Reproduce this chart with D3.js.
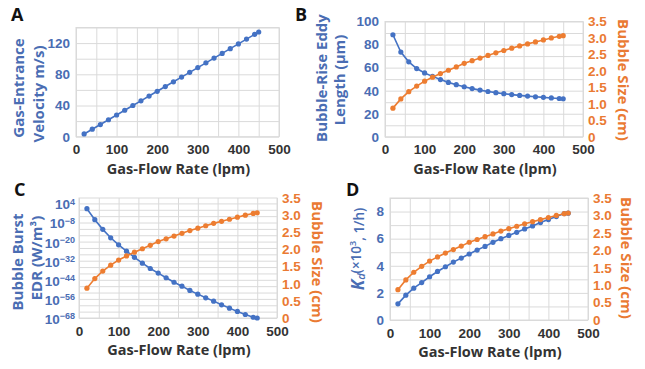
<!DOCTYPE html>
<html>
<head>
<meta charset="utf-8">
<script src="https://cdn.jsdelivr.net/npm/d3@7"></script>
<style>
  body { margin: 0; background: #fff; }
  svg { font-family: "Open Sans", sans-serif; }
  .grid line { stroke: #dadada; stroke-width: 1; }
  .grid .domain { display: none; }
  .tk .domain, .tk line { display: none; }
  .tk text { font-size: 13.5px; font-weight: 600; }
</style>
</head>
<body>
<svg id="chart" width="645" height="369"></svg>
<script>
// data
const flowRate = [20, 40, 60, 80, 100, 120, 140, 160, 180, 200, 220, 240, 260, 280, 300, 320, 340, 360, 380, 400, 420, 440, 450];
const velocity = [3.5, 9.6, 15.6, 21.7, 27.8, 33.9, 40, 46, 52.1, 58.2, 64.3, 70.4, 76.4, 82.5, 88.6, 94.7, 100.8, 106.8, 112.9, 119, 125.1, 131.2, 134.2];
const eddyLength = [88.5, 73.5, 65, 59.2, 55.4, 52.4, 49.6, 47.2, 45.2, 43.4, 41.8, 40.5, 39.3, 38.3, 37.4, 36.6, 35.9, 35.3, 34.7, 34.2, 33.7, 33.2, 33.0];
const bubbleSize = [0.87, 1.15, 1.37, 1.54, 1.69, 1.81, 1.92, 2.02, 2.12, 2.23, 2.31, 2.39, 2.47, 2.55, 2.62, 2.69, 2.76, 2.82, 2.88, 2.94, 3.0, 3.05, 3.07];
const burstEDR = [5, 6e-7, 5e-13, 2.5e-18, 1e-22, 1e-26, 1.3e-30, 3e-34, 1.3e-37, 1.6e-40, 2e-43, 3e-46, 1e-48, 2e-51, 1e-53, 5e-56, 4e-58, 2e-60, 1.6e-62, 1.3e-64, 1.6e-66, 3e-68, 1e-68];
const kd = [1.19, 1.83, 2.35, 2.76, 3.19, 3.58, 3.93, 4.27, 4.57, 4.87, 5.16, 5.43, 5.73, 6.0, 6.24, 6.47, 6.72, 6.94, 7.19, 7.41, 7.63, 7.85, 7.88];

const xTicks = [0, 100, 200, 300, 400, 500];
const xGrid = [0, 50, 100, 150, 200, 250, 300, 350, 400, 450, 500];
const sizeTicks = [0, 0.5, 1, 1.5, 2, 2.5, 3, 3.5];
const edrExps = [4, -8, -20, -32, -44, -56, -68];

const BLUE = '#4472c4', ORANGE = '#ed7d31';
const BLUE_TXT = '#4a6db3', ORANGE_TXT = '#ea7a33', DARK = '#333';

const svg = d3.select('#chart');

function panel(p) {
  const g = svg.append('g');
  const x = d3.scaleLinear().domain([0, 500]).range([p.l, p.r]);
  const y = p.y.range([p.b, p.t]);
  const h = p.b - p.t, w = p.r - p.l;

  // grid
  g.append('g').attr('class', 'grid')
    .attr('transform', `translate(0,${p.b})`)
    .call(d3.axisBottom(x).tickValues(xGrid).tickSize(-h).tickFormat(''));
  g.append('g').attr('class', 'grid')
    .attr('transform', `translate(${p.l},0)`)
    .call(d3.axisLeft(y).tickValues(p.yGrid).tickSize(-w).tickFormat(''));
  g.append('rect')
    .attr('x', p.l).attr('y', p.t).attr('width', w).attr('height', h)
    .attr('fill', 'none').attr('stroke', '#dadada');

  // x axis
  const xa = g.append('g').attr('class', 'tk')
    .attr('transform', `translate(0,${p.b})`)
    .call(d3.axisBottom(x).tickValues(xTicks).tickSize(0).tickPadding(8));
  xa.selectAll('text').attr('fill', DARK);

  g.append('text')
    .attr('x', (p.l + p.r) / 2 + 1).attr('y', p.b + 37)
    .attr('text-anchor', 'middle')
    .attr('fill', DARK)
    .style('font-size', '14.5px').style('font-weight', 700)
    .text('Gas-Flow Rate (lpm)');

  // left axis
  const ya = g.append('g').attr('class', 'tk')
    .attr('transform', `translate(${p.l},0)`)
    .call(d3.axisLeft(y).tickValues(p.yTicks).tickSize(0).tickPadding(p.lpad || 6)
      .tickFormat(p.yFormat || (d => d)));
  ya.selectAll('text').attr('fill', BLUE_TXT);
  if (p.after) p.after(ya);

  // right axis
  let y2 = null;
  if (p.y2) {
    y2 = p.y2.range([p.b, p.t]);
    const ra = g.append('g').attr('class', 'tk')
      .attr('transform', `translate(${p.r},0)`)
      .call(d3.axisRight(y2).tickValues(sizeTicks).tickSize(0).tickPadding(5)
        .tickFormat(d => d === 0 ? '0' : d3.format('.1f')(d)));
    ra.selectAll('text').attr('fill', ORANGE_TXT);
  }

  // series
  p.series.forEach(s => {
    const sy = s.right ? y2 : y;
    const pts = flowRate.map((f, i) => [x(f), sy(s.values[i])]);
    g.append('path')
      .attr('d', d3.line()(pts))
      .attr('fill', 'none').attr('stroke', s.color).attr('stroke-width', 1.6);
    g.append('g').selectAll('circle')
      .data(pts).join('circle')
        .attr('cx', d => d[0]).attr('cy', d => d[1])
        .attr('r', 2.6).attr('fill', s.color);
  });

  // panel letter
  g.append('text')
    .attr('x', p.letter[1]).attr('y', p.letter[2])
    .style('font-size', '18px').style('font-weight', 700).attr('fill', '#111')
    .text(p.letter[0]);

  return g;
}

function yTitle(lines, cx, cy, color, rot) {
  lines.forEach(([txt, dx, dy]) => {
    svg.append('text')
      .attr('transform', `translate(${cx + dx},${cy + (dy || 0)}) rotate(${rot})`)
      .attr('text-anchor', 'middle').attr('dominant-baseline', 'central')
      .attr('fill', color)
      .style('font-size', '15px').style('font-weight', 700)
      .text(txt);
  });
}

// A
panel({
  l: 76, r: 279, t: 27.5, b: 136.7,
  y: d3.scaleLinear().domain([0, 140]),
  yTicks: [0, 40, 80, 120], yGrid: d3.range(0, 141, 20),
  series: [{ values: velocity, color: BLUE }],
  letter: ['A', 11, 21]
});
yTitle([['Gas-Entrance', 0, 0], ['Velocity m/s)', 20, 6]], 18, 88, BLUE_TXT, -90);

// B
panel({
  l: 385, r: 583, t: 21.5, b: 136.8,
  y: d3.scaleLinear().domain([0, 100]),
  yTicks: [0, 20, 40, 60, 80, 100], yGrid: d3.range(0, 101, 10),
  y2: d3.scaleLinear().domain([0, 3.5]),
  series: [{ values: eddyLength, color: BLUE }, { values: bubbleSize, color: ORANGE, right: true }],
  letter: ['B', 295, 21]
});
yTitle([['Bubble-Rise Eddy', 0, 0], ['Length (µm)', 18, 2]], 321, 78, BLUE_TXT, -90);
yTitle([['Bubble Size (cm)', 0, 0]], 624, 80, ORANGE_TXT, 90);

// C
panel({
  l: 79, r: 277, t: 198, b: 318,
  y: d3.scaleLog().domain([1e-68, Math.pow(10, 7.4)]),
  yTicks: edrExps.map(e => Math.pow(10, e)),
  yGrid: d3.range(-68, 5, 4).map(e => Math.pow(10, e)),
  yFormat: () => '',
  lpad: 4,
  after: ax => {
    ax.selectAll('.tick text').each(function(d) {
      const e = Math.round(Math.log10(d));
      const t = d3.select(this).attr('dy', '0.4em');
      t.append('tspan').style('font-size', '13.5px').text('10');
      t.append('tspan').attr('dy', '-0.5em').style('font-size', '9px')
        .text(e < 0 ? '\u2212' + (-e) : e);
    });
  },
  y2: d3.scaleLinear().domain([0, 3.5]),
  series: [{ values: burstEDR, color: BLUE }, { values: bubbleSize, color: ORANGE, right: true }],
  letter: ['C', 14, 196]
});
yTitle([['Bubble Burst', 0, 0], ['EDR (W/m³)', 19, -4]], 17, 262, BLUE_TXT, -90);
yTitle([['Bubble Size (cm)', 0, 0]], 318, 262, ORANGE_TXT, 90);

// D
panel({
  l: 390, r: 588, t: 198, b: 320,
  y: d3.scaleLinear().domain([0, 9]),
  yTicks: [0, 2, 4, 6, 8], yGrid: d3.range(0, 10, 1),
  y2: d3.scaleLinear().domain([0, 3.5]),
  series: [{ values: kd, color: BLUE }, { values: bubbleSize, color: ORANGE, right: true }],
  letter: ['D', 346, 196]
});
const kdTitle = svg.append('text')
  .attr('transform', 'translate(357,249) rotate(-90)')
  .attr('text-anchor', 'middle').attr('dominant-baseline', 'central')
  .attr('fill', BLUE_TXT);
kdTitle.append('tspan').style('font-size', '17px').style('font-weight', 700).style('font-style', 'italic').text('K');
kdTitle.append('tspan').attr('dy', '0.3em').style('font-size', '11px').style('font-style', 'italic').style('font-weight', 600).text('d');
kdTitle.append('tspan').attr('dy', '-0.3em').style('font-size', '13.5px').style('font-weight', 600).text('(×10');
kdTitle.append('tspan').attr('dy', '-0.5em').style('font-size', '9px').style('font-weight', 600).text('3');
kdTitle.append('tspan').attr('dy', '0.5em').style('font-size', '13.5px').style('font-weight', 600).text(', 1/h)');
yTitle([['Bubble Size (cm)', 0, 0]], 627, 258, ORANGE_TXT, 90);
</script>
</body>
</html>
